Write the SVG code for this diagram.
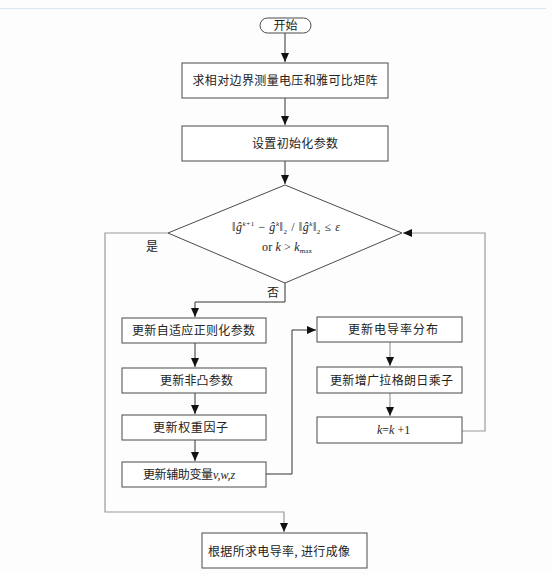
<svg xmlns="http://www.w3.org/2000/svg" width="553" height="574" viewBox="0 0 553 574">
<style>
.box{fill:#fff;stroke:#4a4a4a;stroke-width:1}
.cn{font-family:"Noto Sans CJK SC","Liberation Sans",sans-serif;font-size:12px;fill:#222;text-anchor:middle}
.m{font-family:"Liberation Serif",serif;font-size:12px;fill:#222}
.c{fill:none;stroke:#333;stroke-width:1}
.g{fill:none;stroke:#9a9a9a;stroke-width:1.2}
</style>
<defs>
<marker id="ah" markerWidth="10" markerHeight="10" refX="9" refY="5" orient="auto" markerUnits="userSpaceOnUse">
<path d="M0,1 L9,5 L0,9 Z" fill="#111"/>
</marker>
</defs>
<rect width="553" height="574" fill="#fdfdfd"/>
<line x1="0" y1="8.5" x2="546" y2="8.5" stroke="#dbe8f3" stroke-width="1"/>

<g id="connectors">
<line class="c" x1="285" y1="33" x2="285" y2="62" marker-end="url(#ah)"/>
<line class="c" x1="285" y1="98" x2="285" y2="125" marker-end="url(#ah)"/>
<line class="c" x1="285" y1="161" x2="285" y2="184" marker-end="url(#ah)"/>
<polyline class="c" points="285,283 285,302 195,302 195,317" marker-end="url(#ah)"/>
<line class="c" x1="195" y1="343" x2="195" y2="367" marker-end="url(#ah)"/>
<line class="c" x1="195" y1="393" x2="195" y2="414" marker-end="url(#ah)"/>
<line class="c" x1="195" y1="440" x2="195" y2="461" marker-end="url(#ah)"/>
<polyline class="c" points="266,474 292,474 292,330 316,330" marker-end="url(#ah)"/>
<line class="g" x1="390" y1="342" x2="390" y2="366" marker-end="url(#ah)"/>
<line class="g" x1="390" y1="393" x2="390" y2="416" marker-end="url(#ah)"/>
<polyline class="g" points="462,431 485,431 485,233 403,233" marker-end="url(#ah)"/>
<polyline class="g" points="168,233 105,233 105,512 284,512 284,532" marker-end="url(#ah)"/>
</g>

<g id="start">
<rect class="box" x="260" y="18" width="51" height="15" rx="7.5"/>
<text class="cn" x="285.5" y="30">开始</text>
</g>
<g id="n1">
<rect class="box" x="182" y="63" width="206" height="35"/>
<text class="cn" x="285" y="85" textLength="185">求相对边界测量电压和雅可比矩阵</text>
</g>
<g id="n2">
<rect class="box" x="182" y="126" width="206" height="35"/>
<text class="cn" x="295" y="148" textLength="86">设置初始化参数</text>
</g>
<g id="decision">
<polygon class="box" points="285,185 402,233 285,283 168,233"/>
<text class="m" x="232" y="231" font-size="13" textLength="108" lengthAdjust="spacing">‖<tspan font-style="italic">ĝ</tspan><tspan font-size="7" dy="-5" font-style="italic">k</tspan><tspan font-size="7">+1</tspan><tspan dy="5"> − </tspan><tspan font-style="italic">ĝ</tspan><tspan font-size="7" dy="-5" font-style="italic">k</tspan><tspan dy="5">‖</tspan><tspan font-size="7" dy="3">2</tspan><tspan dy="-3"> / ‖</tspan><tspan font-style="italic">ĝ</tspan><tspan font-size="7" dy="-5" font-style="italic">k</tspan><tspan dy="5">‖</tspan><tspan font-size="7" dy="3">2</tspan><tspan dy="-3"> ≤ </tspan><tspan font-style="italic">ε</tspan></text>
<text class="m" x="262" y="251" font-size="13" textLength="50" lengthAdjust="spacing">or <tspan font-style="italic">k</tspan> &gt; <tspan font-style="italic">k</tspan><tspan font-size="7" dy="2">max</tspan></text>
<text class="cn" x="152" y="251">是</text>
<text class="cn" x="273" y="297">否</text>
</g>
<g id="nA">
<rect class="box" x="122" y="318" width="144" height="25"/>
<text class="cn" x="193.5" y="335" textLength="123">更新自适应正则化参数</text>
</g>
<g id="nB">
<rect class="box" x="122" y="368" width="144" height="25"/>
<text class="cn" x="196.5" y="385" textLength="73">更新非凸参数</text>
</g>
<g id="nC">
<rect class="box" x="122" y="415" width="144" height="25"/>
<text class="cn" x="190.5" y="432" textLength="75">更新权重因子</text>
</g>
<g id="nD">
<rect class="box" x="122" y="462" width="144" height="25"/>
<text class="cn" x="178" y="479" textLength="70">更新辅助变量</text>
<text class="m" x="213" y="479" font-style="italic">v,w,z</text>
</g>
<g id="nE">
<rect class="box" x="317" y="317" width="145" height="25"/>
<text class="cn" x="393" y="334" textLength="90">更新电导率分布</text>
</g>
<g id="nF">
<rect class="box" x="317" y="367" width="145" height="26"/>
<text class="cn" x="391.5" y="385" textLength="123">更新增广拉格朗日乘子</text>
</g>
<g id="nG">
<rect class="box" x="317" y="417" width="145" height="26"/>
<text class="m" x="377" y="434"><tspan font-style="italic">k</tspan>=<tspan font-style="italic">k</tspan> +1</text>
</g>
<g id="end">
<rect class="box" x="202" y="533" width="165" height="35"/>
<text class="cn" x="279" y="556" textLength="142">根据所求电导率, 进行成像</text>
</g>
</svg>
